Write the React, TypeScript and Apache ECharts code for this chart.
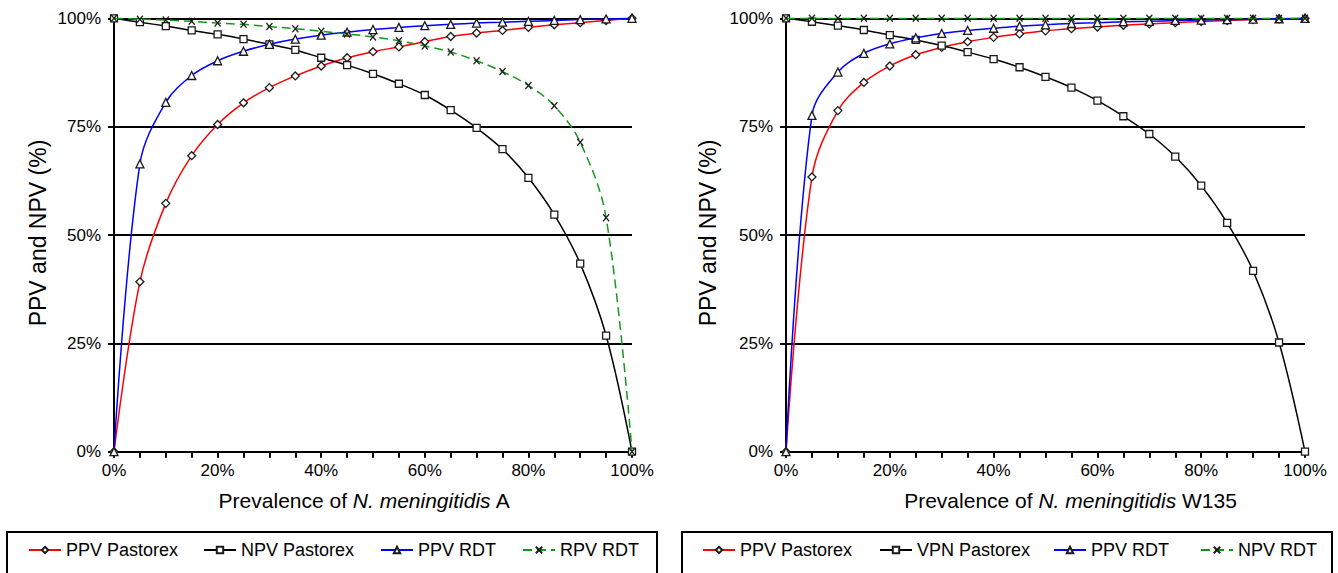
import React, { useEffect, useRef } from 'react';
import * as echarts from 'echarts';

// Prevalence (%) at which each point is plotted
const prevalence = [0, 5, 10, 15, 20, 25, 30, 35, 40, 45, 50, 55, 60, 65, 70, 75, 80, 85, 90, 95, 100];
const yTicks = [0, 25, 50, 75, 100];

// Left chart: N. meningitidis A
const ppvPastorexA = [0, 39.2, 57.3, 68.3, 75.5, 80.5, 84.0, 86.7, 89.0, 90.9, 92.3, 93.4, 94.6, 95.8, 96.6, 97.2, 97.9, 98.5, 99.0, 99.5, 100];
const npvPastorexA = [100, 99.1, 98.2, 97.2, 96.3, 95.2, 94.0, 92.7, 90.9, 89.2, 87.2, 84.9, 82.3, 78.8, 74.7, 69.8, 63.2, 54.7, 43.4, 26.8, 0];
const ppvRdtA = [0, 66.4, 80.6, 86.8, 90.2, 92.4, 94.0, 95.2, 96.1, 96.8, 97.4, 97.9, 98.3, 98.6, 98.9, 99.1, 99.3, 99.5, 99.7, 99.85, 100];
const npvRdtA = [100, 99.8, 99.6, 99.3, 98.9, 98.6, 98.1, 97.6, 97.0, 96.4, 95.7, 94.8, 93.6, 92.2, 90.2, 87.7, 84.5, 79.8, 71.4, 54.0, 0];

// Right chart: N. meningitidis W135
const ppvPastorexW = [0, 63.4, 78.7, 85.2, 89.0, 91.6, 93.3, 94.6, 95.6, 96.4, 97.1, 97.6, 98.0, 98.4, 98.7, 99.0, 99.25, 99.5, 99.7, 99.85, 100];
const npvPastorexW = [100, 99.2, 98.3, 97.3, 96.1, 95.0, 93.7, 92.2, 90.6, 88.7, 86.5, 84.0, 81.0, 77.4, 73.3, 68.1, 61.4, 52.8, 41.7, 25.2, 0];
const ppvRdtW = [0, 77.6, 87.6, 91.9, 94.1, 95.5, 96.5, 97.2, 97.7, 98.2, 98.5, 98.8, 99.0, 99.2, 99.3, 99.5, 99.6, 99.7, 99.8, 99.9, 100];
const npvRdtW = [100, 100, 100, 100, 100, 100, 100, 100, 100, 100, 100, 100, 100, 100, 100, 100, 100, 100, 100, 100, 100];

const leftNames = ['PPV Pastorex', 'NPV Pastorex', 'PPV RDT', 'RPV RDT'];
const rightNames = ['PPV Pastorex', 'VPN Pastorex', 'PPV RDT', 'NPV RDT'];

const FONT = '"Liberation Sans", Arial, Helvetica, sans-serif';
const X_SYMBOL = 'path://M0,0L10,10M10,0L0,10';

function pairs(ys: number[]) {
  return prevalence.map((x, i) => [x, ys[i]]);
}

function lineSeries(name: string, ys: number[], color: string, symbol: string, size: number | number[], idx: number, dashed: boolean, z: number) {
  return {
    type: 'line',
    name,
    data: pairs(ys),
    xAxisIndex: idx,
    yAxisIndex: idx,
    smooth: 0.35,
    symbol,
    symbolSize: size,
    showSymbol: true,
    showAllSymbol: true,
    z,
    lineStyle: { color, width: 1.5, type: dashed ? [9, 5] : 'solid' },
    itemStyle: { color: '#ffffff', borderColor: '#1a1a1a', borderWidth: 1.3 },
    emphasis: { disabled: true },
  };
}

function xAxis(idx: number) {
  return {
    type: 'value',
    gridIndex: idx,
    min: 0,
    max: 100,
    interval: 5,
    axisLine: { show: true, onZero: false, lineStyle: { color: '#000', width: 2 } },
    axisTick: { show: true, inside: false, length: 6, lineStyle: { color: '#000', width: 2 } },
    axisLabel: {
      margin: 10,
      fontSize: 17,
      fontFamily: FONT,
      color: '#000',
      formatter: (v: number) => (v % 20 === 0 ? v + '%' : ''),
    },
    splitLine: { show: false },
  };
}

function yAxis(idx: number) {
  return {
    type: 'value',
    gridIndex: idx,
    min: 0,
    max: 100,
    interval: 25,
    axisLine: { show: true, onZero: false, lineStyle: { color: '#000', width: 2 } },
    axisTick: { show: true, length: 6, lineStyle: { color: '#000', width: 2 } },
    axisLabel: {
      margin: 13,
      fontSize: 17,
      fontFamily: FONT,
      color: '#000',
      formatter: (v: number) => (yTicks.includes(v) ? v + '%' : ''),
    },
    splitLine: { show: true, lineStyle: { color: '#000', width: 2 } },
  };
}

function legendItem(name: string, left: number) {
  return {
    data: [name],
    left,
    top: 540,
    orient: 'horizontal',
    padding: 0,
    itemWidth: 32,
    itemHeight: 8,
    selectedMode: false,
    textStyle: { fontSize: 18, fontFamily: FONT, color: '#000', lineHeight: 20 },
  };
}

export default function App() {
  const ref = useRef<HTMLDivElement>(null);

  useEffect(() => {
    if (!ref.current) return;
    const chart = echarts.init(ref.current, null, { renderer: 'svg' });

    const green = '#12991a';
    const option = {
      animation: false,
      backgroundColor: '#ffffff',
      grid: [
        { left: 114, top: 18.3, width: 518, height: 433.4 },
        { left: 786, top: 18.3, width: 519, height: 433.4 },
      ],
      xAxis: [xAxis(0), xAxis(1)],
      yAxis: [yAxis(0), yAxis(1)],
      legend: [
        legendItem(leftNames[0], 28),
        legendItem(leftNames[1], 203),
        legendItem(leftNames[2], 380),
        legendItem(leftNames[3], 522),
        legendItem(rightNames[0], 702),
        legendItem(rightNames[1], 879),
        legendItem(rightNames[2], 1053),
        legendItem(rightNames[3], 1200),
      ],
      series: [
        lineSeries(leftNames[0], ppvPastorexA, '#ff0000', 'diamond', 8, 0, false, 2),
        lineSeries(leftNames[1], npvPastorexA, '#000000', 'rect', 7, 0, false, 3),
        lineSeries(leftNames[2], ppvRdtA, '#0000ff', 'triangle', 8, 0, false, 4),
        lineSeries(leftNames[3], npvRdtA, green, X_SYMBOL, [6, 7], 0, true, 5),
        lineSeries(rightNames[0], ppvPastorexW, '#ff0000', 'diamond', 8, 1, false, 2),
        lineSeries(rightNames[1], npvPastorexW, '#000000', 'rect', 7, 1, false, 3),
        lineSeries(rightNames[2], ppvRdtW, '#0000ff', 'triangle', 8, 1, false, 4),
        lineSeries(rightNames[3], npvRdtW, green, X_SYMBOL, [6, 7], 1, true, 5),
      ],
      graphic: [
        { type: 'rect', shape: { x: 7, y: 532, width: 650, height: 60 }, style: { fill: 'none', stroke: '#000', lineWidth: 2 }, silent: true },
        { type: 'rect', shape: { x: 682, y: 532, width: 650, height: 60 }, style: { fill: 'none', stroke: '#000', lineWidth: 2 }, silent: true },
        {
          type: 'text', x: 364.5, y: 500, silent: true,
          style: {
            text: '{n|Prevalence of }{i|N. meningitidis}{n| A}',
            align: 'center', verticalAlign: 'middle', fill: '#000',
            fontSize: 21, fontFamily: FONT,
            rich: {
              n: { fontSize: 21, fontFamily: FONT, fill: '#000' },
              i: { fontSize: 21, fontFamily: FONT, fontStyle: 'italic', fill: '#000' },
            },
          },
        },
        {
          type: 'text', x: 1070.5, y: 500, silent: true,
          style: {
            text: '{n|Prevalence of }{i|N. meningitidis}{n| W135}',
            align: 'center', verticalAlign: 'middle', fill: '#000',
            fontSize: 21, fontFamily: FONT,
            rich: {
              n: { fontSize: 21, fontFamily: FONT, fill: '#000' },
              i: { fontSize: 21, fontFamily: FONT, fontStyle: 'italic', fill: '#000' },
            },
          },
        },
        {
          type: 'text', x: 38, y: 233, rotation: Math.PI / 2, silent: true,
          style: { text: 'PPV and NPV (%)', align: 'center', verticalAlign: 'middle', fill: '#000', fontSize: 23, fontFamily: FONT },
        },
        {
          type: 'text', x: 707.5, y: 233, rotation: Math.PI / 2, silent: true,
          style: { text: 'PPV and NPV (%)', align: 'center', verticalAlign: 'middle', fill: '#000', fontSize: 23, fontFamily: FONT },
        },
      ],
    };

    chart.setOption(option as any);
    return () => {
      chart.dispose();
    };
  }, []);

  return (
    <div
      ref={ref}
      style={{ position: 'absolute', left: 0, top: 0, width: 1338, height: 573, background: '#fff' }}
    />
  );
}
